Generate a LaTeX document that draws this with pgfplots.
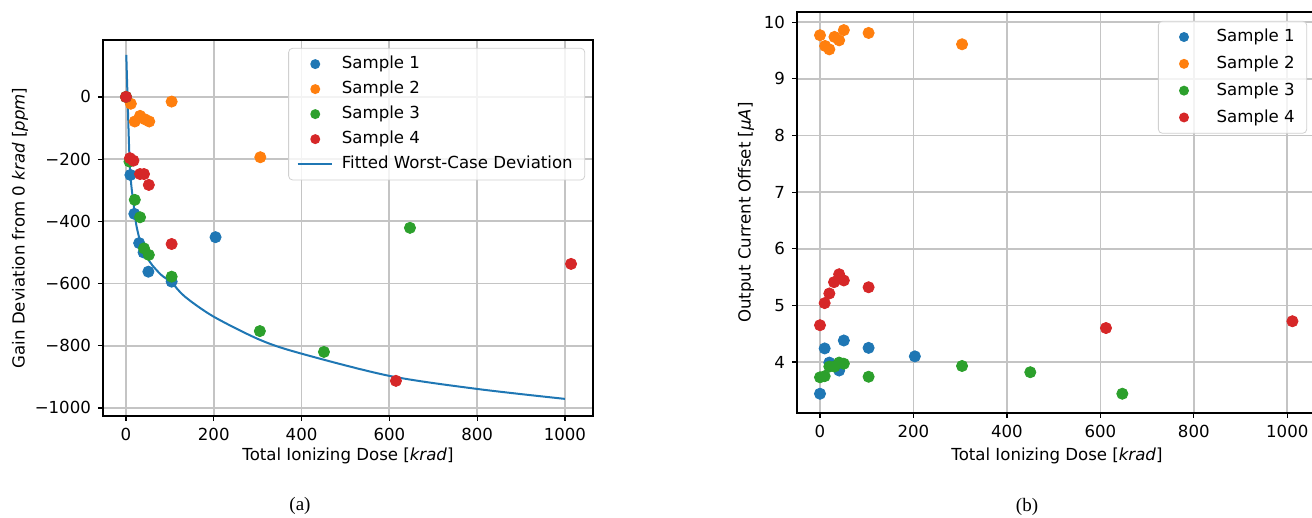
\documentclass[border=0pt]{standalone}
\usepackage{fontspec}
\setmainfont{DejaVu Sans}
\newfontfamily\capfont{Liberation Serif}
\usepackage{pgfplots}
\pgfplotsset{compat=1.18}

\definecolor{c0}{HTML}{1F77B4}
\definecolor{c1}{HTML}{FF7F0E}
\definecolor{c2}{HTML}{2CA02C}
\definecolor{c3}{HTML}{D62728}
\definecolor{gridc}{HTML}{C4C4C4}
\definecolor{legc}{HTML}{D0D0D0}

\pgfplotsset{
  mpl/.style={
    scale only axis,
    font=\fontsize{8.3}{10}\selectfont,
    axis line style={black, line width=0.6pt},
    grid=major,
    major grid style={gridc, line width=0.85pt},
    tick align=outside,
    major tick length=2.5pt,
    tick style={black, line width=0.6pt},
    tick pos=left,
    /pgf/number format/assume math mode=true,
    /pgf/number format/1000 sep={},
    legend cell align=left,
    legend style={draw=legc, rounded corners=2pt, fill=white, fill opacity=0.8,
      text opacity=1, draw opacity=1, font=\fontsize{8.3}{10}\selectfont,
      row sep=0.7pt, inner xsep=4pt, inner ysep=2pt,
      /tikz/every odd column/.append style={column sep=2.5pt}},
  },
  dot/.style={only marks, mark=*, mark size=2.8pt, color=#1,
    mark options={fill=#1, draw=none},
    legend image code/.code={
      \path[draw=none] (0cm,0cm) -- (0.62cm,0cm);
      \fill[draw=none, fill=#1, fill opacity=1] (0.31cm,0cm) circle (2.5pt);}},
}

\begin{document}
\begin{tikzpicture}
% (a) gain deviation
\begin{axis}[mpl,
    at={(51.5pt,51pt)}, anchor=south west,
    width=245pt, height=188pt,
    xmin=-52.4, xmax=1064, ymin=-1026, ymax=183,
    xtick={0,200,400,600,800,1000},
    ytick={-1000,-800,-600,-400,-200,0},
    yticklabels={−1000,−800,−600,−400,−200,0},
    xlabel={Total Ionizing Dose [\textit{krad}]},
    ylabel={Gain Deviation from 0 \textit{krad} [\textit{ppm}]},
    xlabel style={yshift=3pt},
    ylabel style={yshift=-3.5pt},
    legend style={at={(0.984,0.979)}, anchor=north east},
]
\addplot[dot=c0] coordinates {(0,0) (10,-251) (19,-376) (30,-470) (40,-500) (51,-562) (104,-594) (204,-451)};
\addlegendentry{Sample 1}
\addplot[dot=c1] coordinates {(0,0) (11,-22) (20,-79) (32,-61) (43,-72) (53,-79) (104,-15) (306,-194)};
\addlegendentry{Sample 2}
\addplot[dot=c2] coordinates {(0,0) (8,-208) (20,-331) (32,-387) (41,-487) (52,-508) (104,-578) (305,-753) (451,-820) (647,-421)};
\addlegendentry{Sample 3}
\addplot[dot=c3] coordinates {(0,0) (9,-197) (17,-205) (32,-248) (41,-248) (52,-283) (104,-473) (615,-913) (1014,-537)};
\addlegendentry{Sample 4}
\addplot[c0, line width=1pt, no marks, smooth] coordinates {
  (0.7,135) (4.5,-47) (8.3,-208) (12,-283) (17.5,-347) (23.5,-412) (35,-476)
  (54,-530) (80,-572) (104,-597) (134,-642) (199,-706) (305,-781) (396,-824)
  (600,-897) (800,-939) (1000,-971)};
\addlegendentry{Fitted Worst-Case Deviation}
\end{axis}

% (b) output current offset
\begin{axis}[mpl,
    at={(398.5pt,52.5pt)}, anchor=south west,
    width=260pt, height=200.5pt,
    xmin=-49.2, xmax=1063.6, ymin=3.10, ymax=10.18,
    xtick={0,200,400,600,800,1000},
    ytick={4,5,6,7,8,9,10},
    xlabel={Total Ionizing Dose [\textit{krad}]},
    ylabel={Output Current Offset [\textit{μA}]},
    xlabel style={yshift=1.5pt},
    ylabel style={yshift=-2pt},
    legend style={at={(0.981,0.978)}, anchor=north east, row sep=1.6pt,
      /tikz/every odd column/.append style={column sep=5.5pt}},
]
\addplot[dot=c0] coordinates {(0,3.44) (10,4.24) (20,3.99) (41,3.85) (51,4.38) (104,4.25) (203,4.10)};
\addlegendentry{Sample 1}
\addplot[dot=c1] coordinates {(0,9.77) (11,9.58) (20,9.52) (31,9.74) (41,9.68) (51,9.86) (104,9.81) (304,9.61)};
\addlegendentry{Sample 2}
\addplot[dot=c2] coordinates {(0,3.73) (10,3.75) (20,3.92) (31,3.92) (41,3.99) (51,3.97) (104,3.74) (304,3.93) (450,3.82) (647,3.44)};
\addlegendentry{Sample 3}
\addplot[dot=c3] coordinates {(0,4.65) (10,5.04) (20,5.21) (30,5.41) (41,5.55) (51,5.44) (104,5.32) (612,4.60) (1011,4.72)};
\addlegendentry{Sample 4}
\end{axis}

\node[font=\capfont\fontsize{9.5}{11}\selectfont] at (150pt,6pt) {(a)};
\node[font=\capfont\fontsize{9.5}{11}\selectfont] at (513.5pt,5.5pt) {(b)};

\pgfresetboundingbox
\useasboundingbox (0,0) rectangle (656pt,259pt);
\end{tikzpicture}
\end{document}
